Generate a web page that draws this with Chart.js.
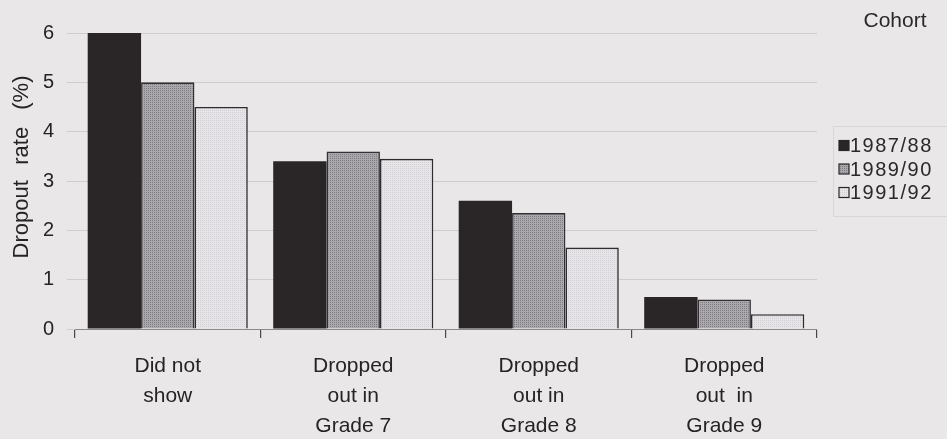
<!DOCTYPE html>
<html>
<head>
<meta charset="utf-8">
<script src="https://cdn.jsdelivr.net/npm/chart.js@4/dist/chart.umd.min.js"></script>
<style>
  html, body { margin: 0; padding: 0; background: #e9e7e7; }
  #wrap { width: 947px; height: 439px; }
</style>
</head>
<body>
<div id="wrap"><canvas id="c" width="947" height="439"></canvas></div>
<script>
// Dropout rates by cohort
const categories = [
  ["Did not", "show"],
  ["Dropped", "out in", "Grade 7"],
  ["Dropped", "out in", "Grade 8"],
  ["Dropped", "out  in", "Grade 9"]
];
const cohorts = ["1987/88", "1989/90", "1991/92"];
const rate1987 = [6.0, 3.4, 2.6, 0.65];
const rate1989 = [5.0, 3.6, 2.35, 0.6];
const rate1991 = [4.5, 3.45, 1.65, 0.3];
const yMin = 0, yMax = 6, yStep = 1;
const legendTitle = "Cohort";
const yTitle = "\u2003 Dropout\u2002\u2009rate\u2002 (%)";

const FONT = "'Liberation Sans', Arial, Helvetica, sans-serif";
const canvas = document.getElementById('c');
const ctx = canvas.getContext('2d');

// small dithered fills for the shaded bars
function dither(base, dot) {
  const t = document.createElement('canvas');
  t.width = 4; t.height = 4;
  const g = t.getContext('2d');
  g.fillStyle = base; g.fillRect(0, 0, 4, 4);
  g.fillStyle = dot;
  g.fillRect(0, 0, 1, 1); g.fillRect(2, 2, 1, 1);
  g.fillRect(2, 0, 1, 1); g.fillRect(0, 2, 1, 1);
  return ctx.createPattern(t, 'repeat');
}
const fills = ['#2a2627', dither('#aaa8ac', '#7e7c80'), dither('#e8e5e9', '#d2cfd4')];
const edges = ['#2a2627', '#333033', '#2e2b2e'];
const series = [rate1987, rate1989, rate1991];

const legendPlugin = {
  id: 'cohortLegend',
  afterDraw(chart) {
    const c = chart.ctx;
    c.save();
    c.fillStyle = '#2b2829';
    c.font = '21px ' + FONT;
    c.textAlign = 'center';
    c.textBaseline = 'middle';
    c.fillText(legendTitle, 895, 21);
    // faint legend frame
    c.strokeStyle = 'rgba(0,0,0,0.07)';
    c.lineWidth = 1;
    c.strokeRect(833.5, 126.5, 120, 90);
    c.font = '20px ' + FONT;
    c.textAlign = 'left';
    try { c.letterSpacing = '1.5px'; } catch (e) {}
    chart.data.datasets.forEach((ds, i) => {
      const y = 145.5 + i * 23.5;
      c.fillStyle = ds.backgroundColor;
      c.fillRect(839, y - 5, 10, 10);
      c.strokeStyle = '#2a2627';
      c.lineWidth = 1.2;
      c.strokeRect(839, y - 5, 10, 10);
      c.fillStyle = '#2b2829';
      c.fillText(ds.label, 850, y + 1);
    });
    c.restore();
  }
};

new Chart(canvas, {
  type: 'bar',
  data: {
    labels: categories,
    datasets: cohorts.map((name, i) => ({
      label: name,
      data: series[i],
      backgroundColor: fills[i],
      borderColor: edges[i],
      borderWidth: i === 0 ? 0 : 1.6,
      borderSkipped: 'start',
      categoryPercentage: 0.863,
      barPercentage: 1.0
    }))
  },
  options: {
    responsive: false,
    animation: false,
    devicePixelRatio: 1,
    layout: { padding: { top: 33, right: 130, bottom: 0, left: 0 } },
    plugins: {
      legend: { display: false },
      title: { display: false },
      tooltip: { enabled: false }
    },
    scales: {
      x: {
        offset: true,
        afterFit(s) { s.height = 110; },
        border: { display: true, color: '#8c898a', width: 1 },
        grid: {
          display: true,
          drawOnChartArea: false,
          drawTicks: true,
          tickLength: 9,
          color: '#4a4748',
          lineWidth: 1.2
        },
        ticks: {
          color: '#262324',
          font: { family: FONT, size: 21, lineHeight: 1.43 },
          padding: 13,
          maxRotation: 0,
          autoSkip: false
        }
      },
      y: {
        min: yMin,
        max: yMax,
        afterFit(s) { s.width = 75; },
        border: { display: false },
        grid: {
          color: 'rgba(60,55,58,0.15)',
          lineWidth: 1,
          tickLength: 8,
          drawTicks: true
        },
        ticks: {
          stepSize: yStep,
          color: '#262324',
          font: { family: FONT, size: 20 },
          padding: 13
        },
        title: {
          display: true,
          text: yTitle,
          color: '#262324',
          font: { family: FONT, size: 22 },
          padding: { top: 9, bottom: 0 }
        }
      }
    }
  },
  plugins: [legendPlugin]
});
</script>
</body>
</html>
